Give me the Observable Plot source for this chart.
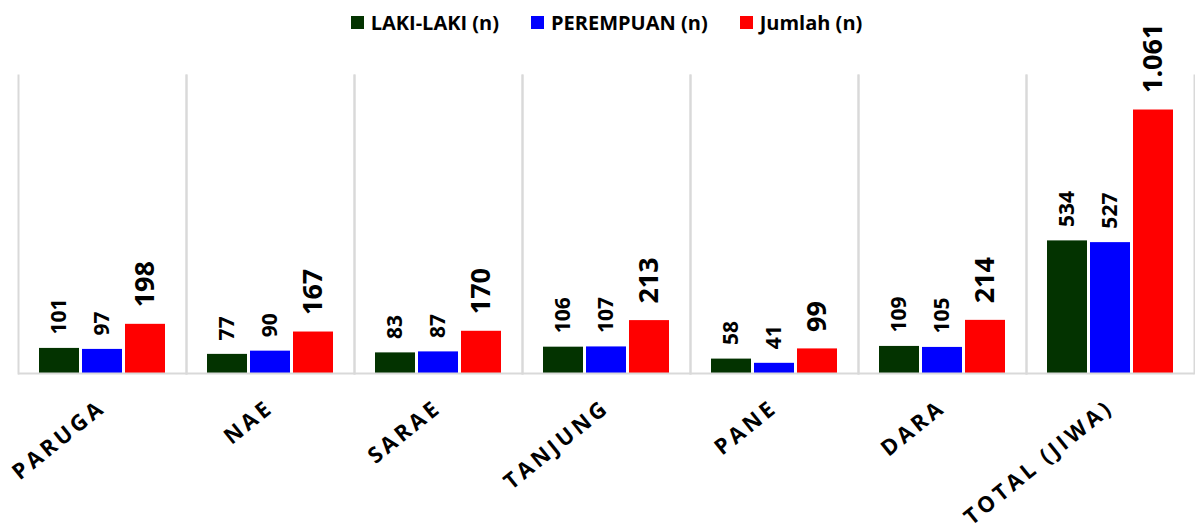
<!DOCTYPE html>
<html>
<head>
<meta charset="utf-8">
<script src="https://cdn.jsdelivr.net/npm/d3@7"></script>
<script src="https://cdn.jsdelivr.net/npm/@observablehq/plot@0.6"></script>
<style>
  body { margin: 0; background: #fff; font-family: "Open Sans", sans-serif; position: relative; }
  #legend { position: absolute; top: 0; left: 0; width: 1195px; height: 45px; display: flex; justify-content: center; align-items: center; padding-left: 18px; box-sizing: border-box; font-weight: bold; font-size: 20px; color: #000; }
  #legend .item { display: flex; align-items: center; margin: 0 16px; }
  #legend .sw { width: 13px; height: 13px; margin-right: 7px; }
  g[aria-label="fx-axis tick label"] text { letter-spacing: 3.5px; font-weight: bold; font-size: 22px; fill: #000; }
</style>
</head>
<body>
<div id="chart"></div>
<div id="legend"></div>
<script>
const categories = ["PARUGA", "NAE", "SARAE", "TANJUNG", "PANE", "DARA", "TOTAL (JIWA)"];
const series = ["LAKI-LAKI (n)", "PEREMPUAN (n)", "Jumlah (n)"];
const lakiLaki = [101, 77, 83, 106, 58, 109, 534];
const perempuan = [97, 90, 87, 107, 41, 105, 527];
const jumlah = [198, 167, 170, 213, 99, 214, 1061];
const colors = ["#033300", "#0000FF", "#FF0000"];

const values = [lakiLaki, perempuan, jumlah];
const data = [];
categories.forEach((c, i) => {
  series.forEach((s, j) => data.push({category: c, series: s, value: values[j][i]}));
});

const fmt = d3.formatLocale({decimal: ",", thousands: ".", grouping: [3], currency: ["", ""]}).format(",d");

// legend
const legend = document.getElementById("legend");
series.forEach((s, j) => {
  const item = document.createElement("div");
  item.className = "item";
  const sw = document.createElement("span");
  sw.className = "sw";
  sw.style.background = colors[j];
  item.appendChild(sw);
  item.appendChild(document.createTextNode(s));
  legend.appendChild(item);
});

const chart = Plot.plot({
  width: 1195,
  height: 531,
  marginTop: 75,
  marginBottom: 158,
  marginLeft: 18,
  marginRight: 1,
  style: {fontFamily: "Open Sans", background: "#fff", overflow: "visible"},
  fx: {domain: categories, padding: 0, label: null, tickSize: 0, tickPadding: 31, tickRotate: -39},
  x: {domain: series, paddingInner: 0.08, paddingOuter: 0.47, axis: null},
  y: {domain: [0, 1200], axis: null},
  color: {domain: series, range: colors},
  marks: [
    Plot.frame({anchor: "left", stroke: "#d9d9d9", strokeWidth: 2}),
    Plot.frame({anchor: "right", stroke: "#d9d9d9", strokeWidth: 2}),
    Plot.barY(data, {fx: "category", x: "series", y: "value", fill: "series"}),
    Plot.ruleY([0], {stroke: "#d9d9d9", strokeWidth: 2}),
    Plot.text(data.filter(d => d.series !== "Jumlah (n)"), {
      fx: "category", x: "series", y: "value", text: d => fmt(d.value),
      rotate: -90, textAnchor: "start", lineAnchor: "middle", dy: -14,
      fontSize: 21, fontWeight: "bold", fill: "#000"
    }),
    Plot.text(data.filter(d => d.series === "Jumlah (n)"), {
      fx: "category", x: "series", y: "value", text: d => fmt(d.value),
      rotate: -90, textAnchor: "start", lineAnchor: "middle", dy: -17,
      fontSize: 27, fontWeight: "bold", fill: "#000"
    })
  ]
});
document.getElementById("chart").appendChild(chart);
</script>
</body>
</html>
